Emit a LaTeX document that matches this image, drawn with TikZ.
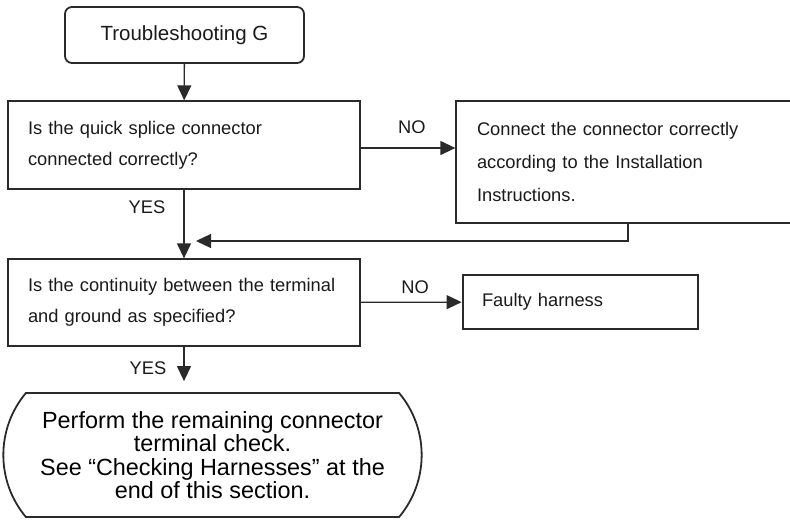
\documentclass[tikz,border=0pt]{standalone}
\usepackage{fontspec}
\setmainfont{Liberation Sans}
\usepackage{tikz}
\usetikzlibrary{arrows.meta,positioning,shapes.misc}
\definecolor{ink}{HTML}{1A1A1A}
\definecolor{edge}{HTML}{2A2A2A}

\begin{document}
\begin{tikzpicture}[x=1pt,y=-1pt,
  flow/.style={draw=edge,line width=1.3pt,-{Triangle[length=15pt,width=14pt]}},
  qbox/.style={draw=edge,line width=1.3pt,minimum width=352pt,minimum height=88pt,
               text width=312pt,inner xsep=20pt,align=left,text=ink,
               font=\fontsize{18.3}{31}\selectfont},
  answer/.style={inner sep=0pt,text=ink,font=\fontsize{18.3}{22}\selectfont}]
  \useasboundingbox (0,0) rectangle (790,520);
  % boxes
  \node[draw=edge,line width=1.8pt,rounded corners=7pt,minimum width=239pt,minimum height=56pt,
        text=ink,font=\fontsize{20.5}{24}\selectfont] (start) at (184.5,35) {Troubleshooting G};
  \node[qbox] (splice) at (184,145) {Is the quick splice connector\\connected correctly?};
  \node[qbox,minimum width=344pt,minimum height=122pt,text width=302pt,inner xsep=21pt,
        font=\fontsize{18.3}{33}\selectfont] (reconnect) at (628,162)
        {Connect the connector correctly\\according to the Installation\\Instructions.};
  \node[qbox,minimum height=87pt] (cont) at (184,302.5) {Is the continuity between the terminal\\and ground as specified?};
  \node[qbox,line width=2.8pt,minimum width=235pt,minimum height=54pt,text width=197pt,inner xsep=19pt] (harness)
        at (580.5,302) {Faulty harness};
  \node[rounded rectangle,rounded rectangle arc length=80,draw=edge,line width=1.8pt,
        minimum width=425pt,minimum height=124pt,align=center,text=black,
        font=\fontsize{23.4}{23.3}\selectfont] (remain) at (212.5,455)
        {Perform the remaining connector\\terminal check.\\See “Checking Harnesses” at the\\end of this section.};
  \coordinate (merge) at (185,241);
  % connectors
  \draw[flow] (start) -- (splice);
  \draw[flow] ([yshift=-3pt]splice.east) -- node[answer,above=13.5pt,pos=0.54]{NO} ([yshift=-3pt]splice.east -| reconnect.west);
  \draw[flow,shorten >=11pt] (reconnect.south) |- (merge);
  \draw[flow] (splice) -- node[answer,left=18pt,pos=0.26]{YES} (cont);
  \draw[flow] (cont) -- node[answer,above=8pt,pos=0.54]{NO} (harness);
  \draw[flow,shorten >=11pt] (cont) -- node[answer,left=17pt,pos=0.47]{YES} (cont.south |- remain.north);
\end{tikzpicture}
\end{document}
